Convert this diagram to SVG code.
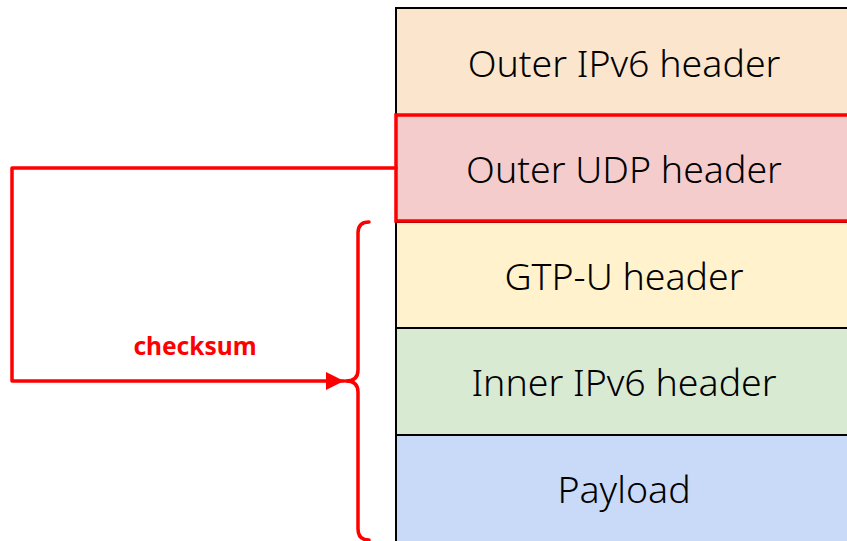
<svg xmlns="http://www.w3.org/2000/svg" width="847" height="541" viewBox="0 0 847 541">
<style>
.box{stroke:#000;stroke-width:2}
.lbl{font-family:"Noto Sans","DejaVu Sans",sans-serif;font-size:37.5px;font-weight:300;fill:#000;text-anchor:middle;dominant-baseline:central}
.red{fill:none;stroke:#ff0000;stroke-width:3.5;stroke-linejoin:round;stroke-linecap:round}
</style>
<defs>
<marker id="arr" viewBox="0 0 10 10" refX="10" refY="5" markerWidth="28" markerHeight="18" markerUnits="userSpaceOnUse" orient="auto">
<path d="M0,0 L10,5 L0,10 z" fill="#ff0000"/>
</marker>
</defs>
<rect width="847" height="541" fill="#fff"/>
<g id="outer-ipv6"><rect class="box" x="396" y="8" width="460" height="107" fill="#fce5cd"/><text class="lbl" x="624" y="62">Outer IPv6 header</text></g>
<g id="gtpu"><rect class="box" x="396" y="222" width="460" height="106" fill="#fff2cc"/><text class="lbl" x="624" y="275">GTP-U header</text></g>
<g id="inner-ipv6"><rect class="box" x="396" y="328" width="460" height="107" fill="#d9ead3"/><text class="lbl" x="624" y="381">Inner IPv6 header</text></g>
<g id="payload"><rect class="box" x="396" y="435" width="460" height="110" fill="#c9daf8"/><text class="lbl" x="624" y="488">Payload</text></g>
<g id="outer-udp"><rect x="396" y="115" width="460" height="106" fill="#f4cccc" stroke="#ff0000" stroke-width="3.5"/><text class="lbl" x="624" y="168">Outer UDP header</text></g>
<g id="brace"><path class="red" d="M369,222 Q358,222 358,233 L358,370 Q358,381 346,381 Q358,381 358,392 L358,529 Q358,540 369,540"/></g>
<g id="connectors">
<path class="red" d="M396,168 L12,168 L12,381 L344,381" marker-end="url(#arr)"/>
<text x="195" y="345" font-family="Noto Sans,DejaVu Sans,sans-serif" font-size="24.5" font-weight="bold" fill="#ff0000" text-anchor="middle" dominant-baseline="central">checksum</text>
</g>
</svg>
